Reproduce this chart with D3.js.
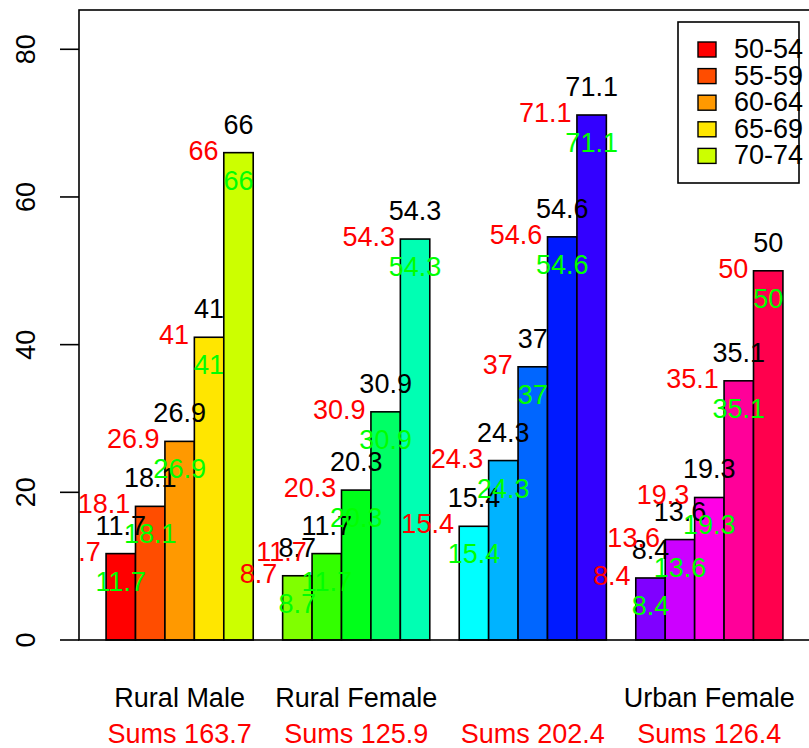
<!DOCTYPE html>
<html>
<body style="margin:0">
<meta charset="UTF-8">
<title>VADeaths barplot</title>
<style>
    body { background: white; }
    text { font-family: "Liberation Sans", Arial, Helvetica, sans-serif; font-size: 27px; }
</style>
<div class="chart"></div>
<script src="https://d3js.org/d3.v7.min.js"></script>
<script>

    // VADeaths, one array per column
    var ageGroups = ["50-54", "55-59", "60-64", "65-69", "70-74"];
    var groups = ["Rural Male", "Rural Female", "Urban Male", "Urban Female"];
    var ruralMale = [11.7, 18.1, 26.9, 41.0, 66.0];
    var ruralFemale = [8.7, 11.7, 20.3, 30.9, 54.3];
    var urbanMale = [15.4, 24.3, 37.0, 54.6, 71.1];
    var urbanFemale = [8.4, 13.6, 19.3, 35.1, 50.0];
    var yTicks = [0, 20, 40, 60, 80];

    var columns = [ruralMale, ruralFemale, urbanMale, urbanFemale];

    var width = 809,
        height = 748,
        plotL = 79, plotR = 810, plotT = 10, plotB = 640,
        fs = 27;

    // rainbow(20), hsv with s = v = 1
    var rainbow = d3.range(20).map(function(i) { return d3.hsl(i * 18, 1, 0.5).formatHex(); });

    // one bar per unit, a unit of space before each group
    var bars = [];
    columns.forEach(function(col, g) {
        col.forEach(function(v, i) {
            bars.push({ g: g, i: i, value: v, pos: 1 + g * 6 + i, col: rainbow[g * 5 + i] });
        });
    });

    var x = d3.scaleLinear().domain([0.08, 24.92]).range([plotL, plotR]);
    var y = d3.scaleLinear().domain([0, 1.2 * d3.max(urbanMale)]).range([plotB, plotT]);

    var svg = d3.select(".chart")
        .append("svg")
        .attr("width", width)
        .attr("height", height);

    svg.append("clipPath").attr("id", "plotClip")
        .append("rect")
        .attr("x", plotL).attr("y", plotT)
        .attr("width", plotR - plotL).attr("height", plotB - plotT);

    svg.selectAll(".bar")
        .data(bars)
        .enter().append("rect")
        .attr("class", "bar")
        .attr("x", function(d) { return x(d.pos); })
        .attr("width", function(d) { return x(d.pos + 1) - x(d.pos); })
        .attr("y", function(d) { return y(d.value); })
        .attr("height", function(d) { return y(0) - y(d.value); })
        .style("fill", function(d) { return d.col; })
        .style("stroke", "#000")
        .style("stroke-width", 1.6);

    var labels = svg.append("g").attr("clip-path", "url(#plotClip)");
    var cx = function(d) { return x(d.pos + 0.5); };

    // above
    labels.selectAll(".lblTop")
        .data(bars)
        .enter().append("text")
        .attr("x", cx)
        .attr("y", function(d) { return y(d.value) - 19; })
        .attr("text-anchor", "middle")
        .style("fill", "#000")
        .text(function(d) { return String(d.value); });

    // left
    labels.selectAll(".lblLeft")
        .data(bars)
        .enter().append("text")
        .attr("x", function(d) { return cx(d) - 20; })
        .attr("y", function(d) { return y(d.value) + 7; })
        .attr("text-anchor", "end")
        .style("fill", "#ff0000")
        .text(function(d) { return String(d.value); });

    // below
    labels.selectAll(".lblBelow")
        .data(bars)
        .enter().append("text")
        .attr("x", cx)
        .attr("y", function(d) { return y(d.value) + 37; })
        .attr("text-anchor", "middle")
        .style("fill", "#00ff00")
        .text(function(d) { return String(d.value); });

    // box
    svg.append("rect")
        .attr("x", plotL).attr("y", plotT)
        .attr("width", plotR - plotL).attr("height", plotB - plotT)
        .style("fill", "none")
        .style("stroke", "#000")
        .style("stroke-width", 1.6);

    // y axis
    var yAxis = svg.append("g");
    yAxis.selectAll("line")
        .data(yTicks)
        .enter().append("line")
        .attr("x1", plotL - 19).attr("x2", plotL)
        .attr("y1", y).attr("y2", y)
        .style("stroke", "#000")
        .style("stroke-width", 1.6);
    yAxis.selectAll("text")
        .data(yTicks)
        .enter().append("text")
        .attr("transform", function(d) { return "translate(35," + y(d) + ") rotate(-90)"; })
        .attr("text-anchor", "middle")
        .text(function(d) { return d; });

    // group names, skipping ones that would collide like R does
    var lastRight = -Infinity;
    groups.forEach(function(name, g) {
        var c = x(1 + g * 6 + 2.5);
        var t = svg.append("text")
            .attr("x", c).attr("y", 707)
            .attr("text-anchor", "middle")
            .text(name);
        var w = t.node().getComputedTextLength();
        if (c - w / 2 < lastRight + fs) {
            t.remove();
        } else {
            lastRight = c + w / 2;
        }
    });

    // sums
    svg.selectAll(".sums")
        .data(columns)
        .enter().append("text")
        .attr("x", function(d, g) { return x(1 + g * 6 + 2.5); })
        .attr("y", 743)
        .attr("text-anchor", "middle")
        .style("fill", "#ff0000")
        .text(function(d) { return "Sums " + d3.format(".1f")(d3.sum(d)); });

    // legend
    var legend = svg.append("g");
    legend.append("rect")
        .attr("x", 678).attr("y", 22)
        .attr("width", 121).attr("height", 161)
        .style("fill", "white")
        .style("stroke", "#000")
        .style("stroke-width", 1.6);
    legend.selectAll(".key")
        .data(ageGroups)
        .enter().append("rect")
        .attr("x", 698)
        .attr("y", function(d, i) { return 42 + i * 26.6; })
        .attr("width", 18).attr("height", 15)
        .style("fill", function(d, i) { return rainbow[i]; })
        .style("stroke", "#000")
        .style("stroke-width", 1.4);
    legend.selectAll(".keyText")
        .data(ageGroups)
        .enter().append("text")
        .attr("x", 734)
        .attr("y", function(d, i) { return 58 + i * 26.6; })
        .text(function(d) { return d; });

</script>
</body>
</html>
